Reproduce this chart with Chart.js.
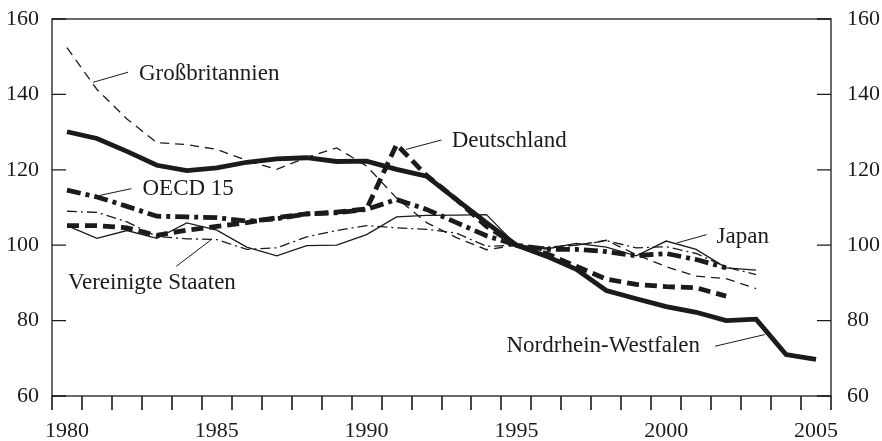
<!DOCTYPE html>
<html>
<head>
<meta charset="utf-8">
<script src="https://cdn.jsdelivr.net/npm/chart.js@4"></script>
<style>
  html, body { margin: 0; padding: 0; background: #fff; }
  canvas { display: block; }
</style>
</head>
<body>
<canvas id="chart" width="882" height="441"></canvas>
<script>
const years = ['1980', '1981', '1982', '1983', '1984', '1985', '1986', '1987', '1988', '1989',
  '1990', '1991', '1992', '1993', '1994', '1995', '1996', '1997', '1998', '1999',
  '2000', '2001', '2002', '2003', '2004', '2005'];

const grossbritannien = [152.4, 141.3, 133.5, 127.2, 126.7, 125.4, 122.5, 120.1, 123.3, 125.8,
  121.0, 112.5, 106.0, 102.0, 98.8, 100.0, 99.3, 100.0, 101.3, 97.5,
  94.3, 91.8, 91.1, 88.5, null, null];
const nrw = [130.1, 128.3, 124.9, 121.2, 119.8, 120.5, 122.0, 122.9, 123.2, 122.2,
  122.3, 120.1, 118.3, 112.1, 106.0, 100.0, 97.1, 93.6, 88.0, 85.8,
  83.7, 82.2, 80.0, 80.4, 71.0, 69.7];
const deutschland = [105.2, 105.2, 104.6, 102.6, 104.0, 105.0, 106.0, 107.3, 108.3, 108.8,
  109.6, 126.7, 118.5, 112.1, 105.0, 100.0, 97.8, 94.4, 91.0, 89.6,
  89.0, 88.7, 86.5, null, null, null];
const oecd15 = [114.6, 112.8, 110.3, 107.7, 107.5, 107.3, 106.4, 107.0, 108.3, 108.6,
  109.5, 112.1, 109.5, 106.0, 102.5, 100.0, 98.9, 98.9, 98.3, 97.2,
  97.8, 96.2, 94.0, null, null, null];
const japan = [105.2, 101.8, 103.9, 101.8, 105.9, 104.0, 99.5, 97.2, 99.9, 100.0,
  102.8, 107.5, 107.9, 108.0, 108.1, 100.0, 99.0, 100.5, 99.5, 97.2,
  101.1, 98.9, 94.0, 93.4, null, null];
const usa = [109.0, 108.7, 106.2, 102.3, 101.7, 101.5, 98.9, 99.3, 102.2, 103.9,
  105.2, 104.6, 104.2, 103.2, 99.7, 100.0, 99.5, 100.0, 101.2, 99.3,
  99.6, 97.8, 94.2, 92.2, null, null];

// annotations: text, anchor (category index, value), leader line
const noteText = ['Großbritannien', 'OECD 15', 'Vereinigte Staaten', 'Deutschland', 'Japan', 'Nordrhein-Westfalen'];
const noteAt = [[2.40, 145.5], [2.52, 115.0], [0.03, 90.0], [12.84, 127.6], [21.68, 102.2], [21.13, 73.2]];
const noteAlign = ['left', 'left', 'left', 'left', 'left', 'right'];
const leaderFrom = [[0.87, 143.2], [1.09, 113.2], [3.65, 94.4], [11.31, 125.4], [20.35, 100.6], [21.63, 73.2]];
const leaderTo = [[2.04, 145.9], [2.15, 115.0], [4.82, 101.5], [12.50, 127.9], [21.35, 102.8], [23.29, 76.3]];

const INK = '#1b1b1b';
const THICK = 4.8;
const THIN = 1.3;
const TICK = 14;
const SERIF = "'Liberation Serif', 'Times New Roman', serif";

Chart.defaults.font.family = SERIF;
Chart.defaults.font.size = 22;
Chart.defaults.color = INK;

function line(label, data, width, dash) {
  return {
    label: label,
    data: data,
    borderColor: INK,
    backgroundColor: INK,
    borderWidth: width,
    borderDash: dash,
    borderCapStyle: 'butt',
    borderJoinStyle: 'miter',
    pointRadius: 0,
    tension: 0,
    fill: false,
    spanGaps: false,
    yAxisID: 'y'
  };
}

const frame = {
  id: 'frame',
  afterDraw(chart) {
    const { ctx, chartArea: a, scales } = chart;
    const x = scales.x, y = scales.y;
    ctx.save();
    ctx.setLineDash([]);
    ctx.strokeStyle = INK;
    ctx.fillStyle = INK;
    ctx.lineWidth = THIN;
    // inward ticks on both value axes
    y.ticks.forEach((t) => {
      const py = y.getPixelForValue(t.value);
      ctx.beginPath();
      ctx.moveTo(a.left, py);
      ctx.lineTo(a.left + TICK, py);
      ctx.moveTo(a.right, py);
      ctx.lineTo(a.right - TICK, py);
      ctx.stroke();
    });
    // year boundary ticks hanging below the axis
    const bottom = Math.round(a.bottom);
    const first = x.getPixelForValue(0);
    const step = x.getPixelForValue(1) - first;
    ctx.lineWidth = 1.6;
    ctx.beginPath();
    for (let i = 0; i <= years.length; i++) {
      const px = Math.round(first + (i - 0.5) * step);
      ctx.moveTo(px, bottom);
      ctx.lineTo(px, bottom + TICK);
    }
    ctx.stroke();
    ctx.lineWidth = THIN;
    ctx.strokeRect(a.left, a.top, a.right - a.left, a.bottom - a.top);

    ctx.lineWidth = 1;
    ctx.font = '23px ' + SERIF;
    ctx.textBaseline = 'middle';
    noteText.forEach((txt, i) => {
      ctx.beginPath();
      ctx.moveTo(x.getPixelForValue(leaderFrom[i][0]), y.getPixelForValue(leaderFrom[i][1]));
      ctx.lineTo(x.getPixelForValue(leaderTo[i][0]), y.getPixelForValue(leaderTo[i][1]));
      ctx.stroke();
      ctx.textAlign = noteAlign[i];
      ctx.fillText(txt, x.getPixelForValue(noteAt[i][0]), y.getPixelForValue(noteAt[i][1]));
    });
    ctx.restore();
  }
};

function fitY(width) {
  return (s) => {
    s.width = width;
    s.paddingTop = 0;
    s.paddingBottom = 0;
  };
}

new Chart(document.getElementById('chart').getContext('2d'), {
  type: 'line',
  data: {
    labels: years,
    datasets: [
      line('Großbritannien', grossbritannien, THIN, [9, 6]),
      line('Japan', japan, THIN, []),
      line('Vereinigte Staaten', usa, THIN, [10, 4, 2, 4]),
      line('OECD 15', oecd15, THICK, [14, 5, 4, 5]),
      line('Deutschland', deutschland, THICK, [12, 6]),
      line('Nordrhein-Westfalen', nrw, THICK, [])
    ]
  },
  options: {
    responsive: false,
    animation: false,
    devicePixelRatio: 1,
    layout: { padding: { top: 19, left: 0, right: 0, bottom: 0 } },
    plugins: {
      legend: { display: false },
      tooltip: { enabled: false }
    },
    scales: {
      x: {
        type: 'category',
        offset: true,
        grid: { display: false, drawTicks: false },
        border: { display: false },
        ticks: {
          autoSkip: false,
          maxRotation: 0,
          padding: TICK + 8,
          callback: function (value, index) {
            const lbl = this.getLabelForValue(value);
            return Number(lbl) % 5 === 0 ? lbl : '';
          }
        },
        afterFit: (s) => {
          s.height = 45;
          s.paddingLeft = 0;
          s.paddingRight = 0;
        }
      },
      y: {
        position: 'left',
        min: 60,
        max: 160,
        ticks: { stepSize: 20, padding: 13 },
        grid: { display: false, drawTicks: false },
        border: { display: false },
        afterFit: fitY(52)
      },
      y2: {
        position: 'right',
        min: 60,
        max: 160,
        ticks: { stepSize: 20, padding: 16 },
        grid: { display: false, drawTicks: false },
        border: { display: false },
        afterFit: fitY(51)
      }
    }
  },
  plugins: [frame]
});
</script>
</body>
</html>
